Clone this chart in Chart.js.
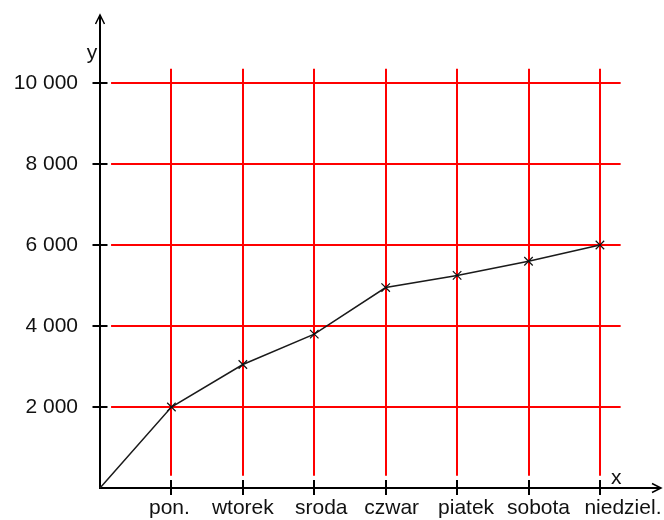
<!DOCTYPE html>
<html>
<head>
<meta charset="utf-8">
<script src="https://cdn.jsdelivr.net/npm/chart.js@4/dist/chart.umd.min.js"></script>
<style>
html,body{margin:0;padding:0;background:#fff;}
#wrap{width:664px;height:520px;}
</style>
</head>
<body>
<div id="wrap"><canvas id="c" width="664" height="520"></canvas></div>
<script>
const days = ['pon.', 'wtorek', 'sroda', 'czwar', 'piatek', 'sobota', 'niedziel.'];
const values = [2000, 3050, 3800, 4950, 5250, 5600, 6000];
const yTicks = [2000, 4000, 6000, 8000, 10000];
const yTickLabels = ['2 000', '4 000', '6 000', '8 000', '10 000'];
const xTicks = [1, 2, 3, 4, 5, 6, 7];

// style: horizontal nudge (px) of each day label, as in the original drawing
const labelNudge = [-2, 0, 7, 6, 9, 10, 23];
const FONT = '"Liberation Sans", Arial, sans-serif';

const points = [{x: 0, y: 0}].concat(days.map((d, i) => ({x: xTicks[i], y: values[i]})));

const gridPlugin = {
  id: 'schoolGrid',
  beforeDatasetsDraw(chart) {
    const ctx = chart.ctx;
    const xs = chart.scales.x, ys = chart.scales.y;
    const ca = chart.chartArea;
    const x0 = xs.getPixelForValue(0), y0 = ys.getPixelForValue(0);
    ctx.save();
    // red grid
    ctx.strokeStyle = '#ff0000';
    ctx.lineWidth = 2;
    yTicks.forEach(v => {
      const py = Math.round(ys.getPixelForValue(v));
      ctx.beginPath();
      ctx.moveTo(xs.getPixelForValue(0.155), py);
      ctx.lineTo(xs.getPixelForValue(7.29), py);
      ctx.stroke();
    });
    xTicks.forEach(v => {
      const px = Math.round(xs.getPixelForValue(v));
      ctx.beginPath();
      ctx.moveTo(px, ys.getPixelForValue(300));
      ctx.lineTo(px, ys.getPixelForValue(10350));
      ctx.stroke();
    });
    // axes
    ctx.strokeStyle = '#000';
    ctx.lineWidth = 2;
    ctx.beginPath();
    ctx.moveTo(x0, y0);
    ctx.lineTo(x0, ca.top);
    ctx.moveTo(x0 - 1, y0);
    ctx.lineTo(ca.right, y0);
    ctx.stroke();
    // arrows
    ctx.lineWidth = 1.5;
    ctx.beginPath();
    ctx.moveTo(x0 - 4.5, ca.top + 9);
    ctx.lineTo(x0, ca.top);
    ctx.lineTo(x0 + 4.5, ca.top + 9);
    ctx.moveTo(ca.right - 9, y0 - 4.5);
    ctx.lineTo(ca.right, y0);
    ctx.lineTo(ca.right - 9, y0 + 4.5);
    ctx.stroke();
    // tick marks
    ctx.lineWidth = 2;
    ctx.beginPath();
    yTicks.forEach(v => {
      const py = Math.round(ys.getPixelForValue(v));
      ctx.moveTo(x0 - 7.5, py);
      ctx.lineTo(x0 + 7.5, py);
    });
    xTicks.forEach(v => {
      const px = Math.round(xs.getPixelForValue(v));
      ctx.moveTo(px, y0 - 8);
      ctx.lineTo(px, y0 + 7);
    });
    ctx.stroke();
    // axis names
    ctx.fillStyle = '#111';
    ctx.font = '21px ' + FONT;
    ctx.textAlign = 'center';
    ctx.textBaseline = 'alphabetic';
    ctx.fillText('y', x0 - 8, ca.top + 44);
    ctx.fillText('x', xs.getPixelForValue(7.23), y0 - 4);
    // day labels under the x axis
    days.forEach((d, i) => {
      ctx.fillText(d, xs.getPixelForValue(xTicks[i]) + labelNudge[i], y0 + 26);
    });
    ctx.restore();
  }
};

new Chart(document.getElementById('c'), {
  type: 'line',
  data: {
    datasets: [{
      data: points,
      borderColor: '#1a1a1a',
      borderWidth: 1.5,
      tension: 0,
      fill: false,
      clip: false,
      pointStyle: 'crossRot',
      pointRadius: points.map((p, i) => i === 0 ? 0 : 6),
      pointBorderColor: '#111',
      pointBorderWidth: 1.2,
      pointHoverRadius: 6
    }]
  },
  options: {
    responsive: false,
    animation: false,
    events: [],
    layout: {autoPadding: false, padding: {top: 15, right: 3, left: 0, bottom: 0}},
    plugins: {legend: {display: false}, tooltip: {enabled: false}},
    scales: {
      x: {
        type: 'linear',
        min: 0,
        max: 7.855,
        afterBuildTicks: s => { s.ticks = xTicks.map(v => ({value: v})); },
        afterFit: s => { s.height = 32; s.paddingLeft = 0; s.paddingRight = 0; },
        grid: {display: false, drawTicks: false},
        border: {display: false},
        ticks: {display: false}
      },
      y: {
        type: 'linear',
        min: 0,
        max: 11680,
        afterBuildTicks: s => { s.ticks = yTicks.map(v => ({value: v})); },
        afterFit: s => { s.width = 100; s.paddingTop = 0; s.paddingBottom = 0; },
        grid: {display: false, drawTicks: false},
        border: {display: false},
        ticks: {
          padding: 22,
          color: '#111',
          font: {family: FONT, size: 21},
          callback: (v) => yTickLabels[yTicks.indexOf(v)]
        }
      }
    }
  },
  plugins: [gridPlugin]
});
</script>
</body>
</html>
